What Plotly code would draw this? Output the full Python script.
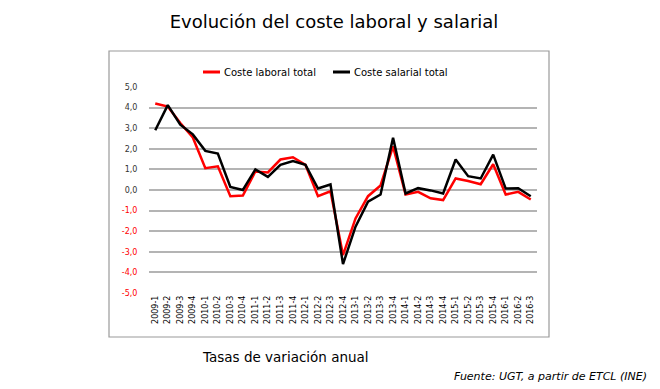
import plotly.graph_objects as go

categories = ["2009-1", "2009-2", "2009-3", "2009-4",
              "2010-1", "2010-2", "2010-3", "2010-4",
              "2011-1", "2011-2", "2011-3", "2011-4",
              "2012-1", "2012-2", "2012-3", "2012-4",
              "2013-1", "2013-2", "2013-3", "2013-4",
              "2014-1", "2014-2", "2014-3", "2014-4",
              "2015-1", "2015-2", "2015-3", "2015-4",
              "2016-1", "2016-2", "2016-3"]

coste_laboral = [4.2, 4.05, 3.25, 2.55,
                 1.06, 1.15, -0.3, -0.27,
                 0.9, 0.85, 1.48, 1.59,
                 1.22, -0.3, -0.06, -3.16,
                 -1.38, -0.3, 0.22, 2.12,
                 -0.22, -0.09, -0.4, -0.49,
                 0.56, 0.44, 0.28, 1.25,
                 -0.22, -0.09, -0.46]

coste_salarial = [2.9, 4.12, 3.17, 2.7,
                  1.9, 1.77, 0.15, 0.0,
                  1.0, 0.64, 1.22, 1.4,
                  1.22, 0.07, 0.27, -3.6,
                  -1.78, -0.57, -0.22, 2.53,
                  -0.17, 0.09, -0.02, -0.17,
                  1.48, 0.67, 0.56, 1.72,
                  0.07, 0.09, -0.3]

series_names = ["Coste laboral total", "Coste salarial total"]
series_colors = ["#FF0000", "#000000"]

y_ticks = [5, 4, 3, 2, 1, 0, -1, -2, -3, -4, -5]

tick_text = []
for v in y_ticks:
    s = f"{v:.1f}".replace(".", ",")
    if v < 0:
        s = f"<span style='color:#FF0000'>{s}</span>"
    tick_text.append(s)

# plot area in pixels
L, R, T, B = 149, 537, 87, 293
W, H = 660, 389

def px_x(p):
    return (p - L) / (R - L)

def px_y(p):
    return (B - p) / (B - T)

fig = go.Figure()
for name, vals, col in zip(series_names, [coste_laboral, coste_salarial], series_colors):
    fig.add_trace(go.Scatter(x=categories, y=vals, mode="lines", name=name,
                             line=dict(color=col, width=2.5)))

fig.update_layout(
    width=W, height=H,
    margin=dict(l=L, r=W - R, t=T, b=H - B, pad=0),
    paper_bgcolor="white", plot_bgcolor="white",
    font=dict(family="DejaVu Sans", color="#000000"),
    showlegend=False,
    title=dict(text="Evolución del coste laboral y salarial",
               x=334 / W, xanchor="center", y=1 - 22 / H, yanchor="middle",
               font=dict(size=18, family="DejaVu Sans", color="#000000")),
)

fig.update_xaxes(type="category", range=[-0.5, len(categories) - 0.5],
                 tickangle=-90, tickfont=dict(size=8, family="DejaVu Sans"),
                 showgrid=False, showline=False, ticks="", zeroline=False)
fig.update_yaxes(range=[-5, 5], tickvals=y_ticks, ticktext=tick_text,
                 tickfont=dict(size=8, family="DejaVu Sans", color="#333333"),
                 showgrid=True, gridcolor="#b4b4b4", gridwidth=1.5,
                 zeroline=False, showline=False,
                 ticks="outside", ticklen=9, tickcolor="rgba(0,0,0,0)")

fig.add_shape(type="rect", xref="paper", yref="paper",
              x0=px_x(109), x1=px_x(549), y0=px_y(337), y1=px_y(51),
              line=dict(color="#9a9a9a", width=1.2), layer="below")

# custom legend
legend_x = [203, 333]
for lx, name, col in zip(legend_x, series_names, series_colors):
    fig.add_shape(type="line", xref="paper", yref="paper",
                  x0=px_x(lx), x1=px_x(lx + 17), y0=px_y(72), y1=px_y(72),
                  line=dict(color=col, width=3))
    fig.add_annotation(text=name, xref="paper", yref="paper",
                       x=px_x(lx + 19), y=px_y(72), xanchor="left", yanchor="middle",
                       showarrow=False, font=dict(size=10, family="DejaVu Sans"))

fig.add_annotation(text="Tasas de variación anual", xref="paper", yref="paper",
                   x=px_x(200), y=px_y(357), xanchor="left", yanchor="middle",
                   showarrow=False, font=dict(size=13.5, family="DejaVu Sans"))
fig.add_annotation(text="<i>Fuente: UGT, a partir de ETCL (INE)</i>",
                   xref="paper", yref="paper",
                   x=px_x(649), y=px_y(376), xanchor="right", yanchor="middle",
                   showarrow=False, font=dict(size=11, family="DejaVu Sans"))

fig.write_html("out.html", config={"displayModeBar": False},
               post_script="document.body.style.margin='0';document.body.style.padding='0';")
